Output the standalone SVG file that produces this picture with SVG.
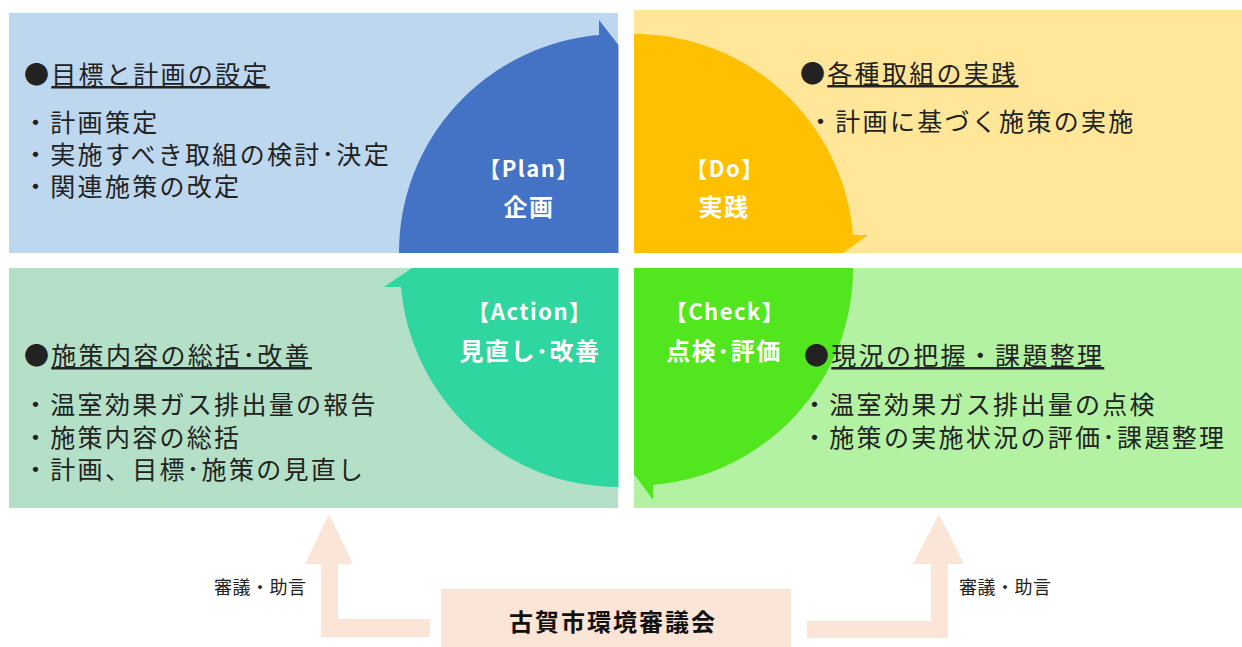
<svg xmlns="http://www.w3.org/2000/svg" width="1242" height="647" viewBox="0 0 1242 647">
<style>
  .body { font-family: "Noto Sans CJK JP", "Noto Sans", sans-serif; font-size: 25px; letter-spacing: 2.3px; fill: #222; }
  .ul { text-decoration: underline; }
  .lab1 { font-family: "Noto Sans CJK JP", "Noto Sans", sans-serif; font-size: 22px; font-weight: bold; letter-spacing: 1.5px; fill: #fff; text-anchor: middle; }
  .lab2 { font-family: "Noto Sans CJK JP", "Noto Sans", sans-serif; font-size: 24px; font-weight: bold; letter-spacing: 1.5px; fill: #fff; text-anchor: middle; }
  .small { font-family: "Noto Sans CJK JP", "Noto Sans", sans-serif; font-size: 18px; letter-spacing: 0.5px; fill: #222; }
  .council { font-family: "Noto Sans CJK JP", "Noto Sans", sans-serif; font-size: 24px; font-weight: bold; letter-spacing: 2px; fill: #111; text-anchor: middle; }
  .peach { fill: #FBE5D6; }
</style>
<rect width="1242" height="647" fill="#fff"/>

<g id="panel-plan">
  <rect x="9" y="13" width="609" height="240" fill="#BDD7EE"/>
</g>
<g id="panel-do">
  <rect x="634" y="10" width="608" height="243" fill="#FFE699"/>
</g>
<g id="panel-action">
  <rect x="9" y="268" width="609" height="240" fill="#B3E0C6"/>
</g>
<g id="panel-check">
  <rect x="634" y="268" width="608" height="240" fill="#B2F2A2"/>
</g>

<g id="arc-plan">
  <path d="M 399 253 A 219 218 0 0 1 599 35 L 599 20 L 618.5 45 L 618.5 253 Z" fill="#4472C4"/>
  <text class="lab1" x="529" y="177">【Plan】</text>
  <text class="lab2" x="529" y="216">企画</text>
</g>
<g id="arc-do">
  <path d="M 634 34 A 219 219 0 0 1 853 235 L 868 235 L 843 253 L 634 253 Z" fill="#FFC000"/>
  <text class="lab1" x="725" y="177">【Do】</text>
  <text class="lab2" x="724" y="216">実践</text>
</g>
<g id="arc-check">
  <path d="M 853 268 A 219 217 0 0 1 653 485 L 653 500 L 634 474 L 634 268 Z" fill="#52E61E"/>
  <text class="lab1" x="725" y="320">【Check】</text>
  <text class="lab2" x="724" y="360">点検･評価</text>
</g>
<g id="arc-action">
  <path d="M 618.5 487 A 218 219 0 0 1 401 287 L 384 287 L 412 268 L 618.5 268 Z" fill="#30D6A0"/>
  <text class="lab1" x="530" y="320">【Action】</text>
  <text class="lab2" x="530" y="360">見直し･改善</text>
</g>

<g id="text-plan">
  <text class="body" x="24" y="84">●<tspan class="ul">目標と計画の設定</tspan></text>
  <text class="body" x="23" y="132">・計画策定</text>
  <text class="body" x="23" y="164">・実施すべき取組の検討･決定</text>
  <text class="body" x="23" y="196">・関連施策の改定</text>
</g>
<g id="text-do">
  <text class="body" x="800" y="83">●<tspan class="ul">各種取組の実践</tspan></text>
  <text class="body" x="808" y="131">・計画に基づく施策の実施</text>
</g>
<g id="text-action">
  <text class="body" x="24" y="365">●<tspan class="ul">施策内容の総括･改善</tspan></text>
  <text class="body" x="23" y="414">・温室効果ガス排出量の報告</text>
  <text class="body" x="23" y="447">・施策内容の総括</text>
  <text class="body" x="23" y="479">・計画、目標･施策の見直し</text>
</g>
<g id="text-check">
  <text class="body" x="804" y="365">●<tspan class="ul">現況の把握・課題整理</tspan></text>
  <text class="body" x="802" y="414">・温室効果ガス排出量の点検</text>
  <text class="body" x="802" y="447">・施策の実施状況の評価･課題整理</text>
</g>

<g id="council">
  <rect class="peach" x="441" y="589" width="350" height="58"/>
  <text class="council" x="613" y="631">古賀市環境審議会</text>
</g>

<g id="connectors">
  <polygon class="peach" points="329,514 353,564 338,564 338,619 430,619 430,637 321,637 321,564 305,564"/>
  <polygon class="peach" points="939,514 964,564 948,564 948,638 807,638 807,621 931,621 931,564 913,564"/>
  <text class="small" x="214" y="594">審議・助言</text>
  <text class="small" x="959" y="594">審議・助言</text>
</g>
</svg>
